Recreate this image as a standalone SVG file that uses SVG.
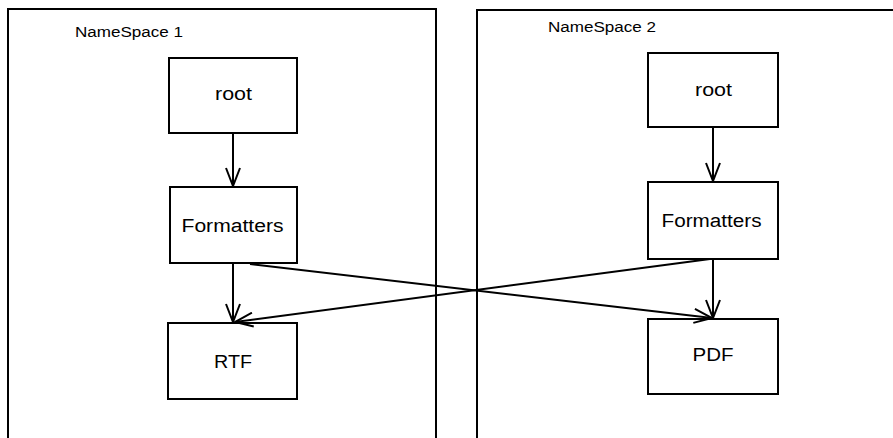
<svg xmlns="http://www.w3.org/2000/svg" width="893" height="438" viewBox="0 0 893 438">
<defs>
<style>
.ns{fill:none;stroke:#000;stroke-width:2}
.box{fill:#fff;stroke:#000;stroke-width:2}
.lbl{font-family:"Liberation Sans",Arial,sans-serif;font-size:18px;fill:#000}
.nsl{font-family:"Liberation Sans",Arial,sans-serif;font-size:14px;fill:#000}
.edge{fill:none;stroke:#000;stroke-width:2}
</style>
<marker id="arr" viewBox="0 0 20 16" refX="19" refY="8" markerWidth="20" markerHeight="16" markerUnits="userSpaceOnUse" orient="auto">
<path d="M1,1 L19,8 L1,15" fill="none" stroke="#000" stroke-width="2"/>
</marker>
</defs>
<rect width="893" height="438" fill="#fff"/>
<g id="namespace1">
<path class="ns" d="M8,440 L8,9 L436,9 L436,440"/>
<text class="nsl" x="75" y="36.5" textLength="108" lengthAdjust="spacingAndGlyphs">NameSpace 1</text>
</g>
<g id="namespace2">
<path class="ns" d="M477,440 L477,10 L895,10"/>
<text class="nsl" x="548" y="32" textLength="108" lengthAdjust="spacingAndGlyphs">NameSpace 2</text>
</g>
<g id="root1">
<rect class="box" x="169" y="58" width="128" height="75"/>
<text class="lbl" x="215" y="100" textLength="37" lengthAdjust="spacingAndGlyphs">root</text>
</g>
<g id="formatters1">
<rect class="box" x="170" y="187" width="127" height="76"/>
<text class="lbl" x="181.5" y="231.5" textLength="102" lengthAdjust="spacingAndGlyphs">Formatters</text>
</g>
<g id="rtf">
<rect class="box" x="168" y="323" width="129" height="76"/>
<text class="lbl" x="214" y="367.5" textLength="38" lengthAdjust="spacingAndGlyphs">RTF</text>
</g>
<g id="root2">
<rect class="box" x="648" y="53" width="130" height="74"/>
<text class="lbl" x="695" y="96" textLength="37" lengthAdjust="spacingAndGlyphs">root</text>
</g>
<g id="formatters2">
<rect class="box" x="648" y="182" width="130" height="77"/>
<text class="lbl" x="661.5" y="226.5" textLength="100" lengthAdjust="spacingAndGlyphs">Formatters</text>
</g>
<g id="pdf">
<rect class="box" x="648" y="319" width="130" height="75"/>
<text class="lbl" x="692.5" y="361" textLength="41" lengthAdjust="spacingAndGlyphs">PDF</text>
</g>
<g id="connectors">
<line class="edge" x1="233" y1="133" x2="233" y2="186" marker-end="url(#arr)"/>
<line class="edge" x1="233" y1="263" x2="233" y2="322" marker-end="url(#arr)"/>
<line class="edge" x1="713" y1="127" x2="713" y2="181" marker-end="url(#arr)"/>
<line class="edge" x1="713" y1="259" x2="713" y2="318" marker-end="url(#arr)"/>
<line class="edge" x1="250" y1="264" x2="712" y2="318" marker-end="url(#arr)"/>
<line class="edge" x1="710" y1="259" x2="235" y2="322" marker-end="url(#arr)"/>
</g>
</svg>
